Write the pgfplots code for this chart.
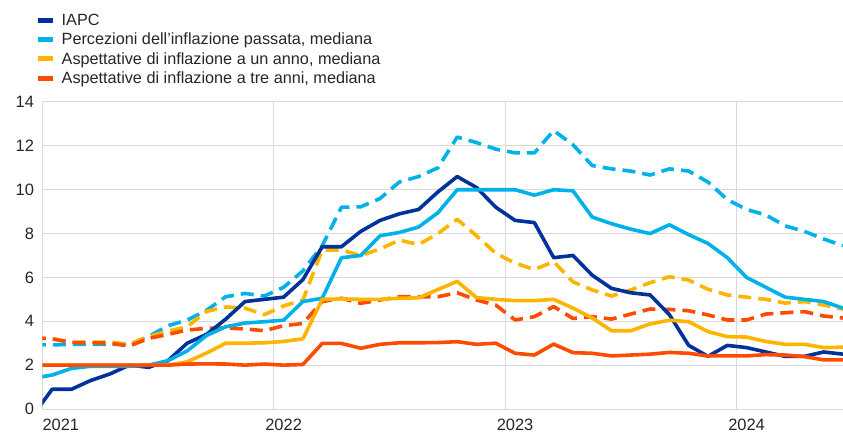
\documentclass[border=0pt]{standalone}
\usepackage{fontspec}
\setmainfont{Liberation Sans}
\usepackage{pgfplots}
\usepackage{pgfplotstable}
\pgfplotsset{compat=1.18}
\definecolor{ecbdark}{RGB}{0,50,153}
\definecolor{ecblight}{RGB}{0,177,234}
\definecolor{ecbyellow}{RGB}{255,180,0}
\definecolor{ecborange}{RGB}{255,75,0}
\definecolor{gridgrey}{RGB}{217,217,217}
\definecolor{txt}{RGB}{38,38,38}

\pgfplotstableread{
m iapc lbs lbd ys yd rs rd
-1 -0.3 1.40 2.95 2.00 3.25 2.00 3.25
0 0.9 1.55 2.92 2.00 3.20 2.00 3.20
1 0.9 1.85 2.95 2.00 3.05 2.00 3.03
2 1.3 1.95 2.95 2.00 3.05 2.00 3.03
3 1.6 1.95 2.95 2.00 3.05 2.00 3.00
4 2.0 1.95 2.95 2.00 2.95 2.00 2.87
5 1.9 2.00 3.30 2.00 3.30 2.00 3.22
6 2.2 2.20 3.80 2.00 3.55 2.00 3.40
7 3.0 2.65 4.05 2.15 3.75 2.05 3.60
8 3.4 3.35 4.50 2.55 4.45 2.06 3.68
9 4.1 3.75 5.12 3.00 4.65 2.05 3.70
10 4.9 3.92 5.27 3.00 4.60 2.00 3.65
11 5.0 3.98 5.15 3.02 4.30 2.05 3.57
12 5.1 4.05 5.55 3.08 4.70 2.00 3.80
13 5.9 4.90 6.30 3.20 4.97 2.03 3.90
14 7.4 5.05 7.45 5.00 7.25 2.99 4.90
15 7.4 6.90 9.20 5.02 7.25 2.99 5.05
16 8.1 7.00 9.22 5.00 7.00 2.77 4.82
17 8.6 7.90 9.60 5.00 7.30 2.95 4.97
18 8.9 8.05 10.35 5.05 7.70 3.02 5.12
19 9.1 8.30 10.60 5.07 7.50 3.02 5.12
20 9.9 8.95 11.00 5.45 8.00 3.03 5.12
21 10.6 10.00 12.40 5.82 8.65 3.07 5.30
22 10.1 10.00 12.15 5.08 7.90 2.95 4.97
23 9.2 10.00 11.85 5.00 7.10 3.00 4.74
24 8.6 10.00 11.68 4.94 6.65 2.54 4.06
25 8.5 9.75 11.68 4.94 6.36 2.46 4.21
26 6.9 10.00 12.70 5.00 6.72 2.96 4.67
27 7.0 9.95 12.05 4.60 5.80 2.57 4.13
28 6.1 8.75 11.10 4.15 5.43 2.54 4.21
29 5.5 8.45 10.95 3.57 5.15 2.42 4.10
30 5.3 8.20 10.85 3.57 5.43 2.46 4.33
31 5.2 8.00 10.67 3.88 5.76 2.50 4.56
32 4.3 8.40 10.95 4.05 6.03 2.58 4.54
33 2.9 7.95 10.85 3.98 5.88 2.54 4.48
34 2.4 7.55 10.35 3.53 5.46 2.42 4.29
35 2.9 6.90 9.55 3.30 5.20 2.42 4.06
36 2.8 6.00 9.10 3.28 5.10 2.42 4.06
37 2.6 5.55 8.85 3.08 5.00 2.48 4.33
38 2.4 5.10 8.35 2.95 4.83 2.46 4.39
39 2.4 5.00 8.10 2.95 4.90 2.39 4.44
40 2.6 4.90 7.75 2.80 4.74 2.24 4.24
41 2.5 4.60 7.45 2.82 4.55 2.24 4.15
}\data

\begin{document}
\begin{tikzpicture}
\begin{axis}[
  scale only axis, width=800.5bp, height=307bp,
  xmin=-0.5, xmax=41, ymin=0, ymax=14,
  ytick={0,2,...,14},
  xtick={0.45,12,24,36}, xticklabels={2021,2022,2023,2024},
  extra x ticks={-0.5,11.5,23.5,35.5}, extra x tick labels={},
  extra x tick style={grid=major},
  ymajorgrids, xmajorgrids=false,
  grid style={gridgrey, line width=1bp},
  major tick length=0pt,
  axis line style={draw=none},
  tick label style={font=\fontsize{16.5}{19}\selectfont, text=txt},
  /pgf/number format/assume math mode=true,
  yticklabel style={xshift=-5bp},
  xticklabel style={yshift=-7bp},
  legend style={draw=none, fill=none, at={(rel axis cs:0,1)}, anchor=north west,
    xshift=-10bp, yshift=92bp, font=\fontsize{16.3}{19.5}\selectfont, text=txt,
    row sep=2.0bp, /tikz/every odd column/.append style={column sep=4bp}},
  legend cell align=left,
  legend image code/.code={\draw[line width=5bp, solid] (0bp,0bp) -- (15bp,0bp);},
  every axis plot/.append style={line width=3.6bp, line join=round},
]
\addplot[ecblight, dash pattern=on 13bp off 7bp, forget plot] table[x=m, y=lbd] {\data};
\addplot[ecbyellow, dash pattern=on 13bp off 7bp, forget plot] table[x=m, y=yd] {\data};
\addplot[ecborange, dash pattern=on 13bp off 7bp, forget plot] table[x=m, y=rd] {\data};
\addplot[ecbdark] table[x=m, y=iapc] {\data};
\addplot[ecblight] table[x=m, y=lbs] {\data};
\addplot[ecbyellow] table[x=m, y=ys] {\data};
\addplot[ecborange] table[x=m, y=rs] {\data};
\legend{IAPC, {Percezioni dell'inflazione passata, mediana}, {Aspettative di inflazione a un anno, mediana}, {Aspettative di inflazione a tre anni, mediana}}
\coordinate (ll) at (rel axis cs:0,0);
\coordinate (ur) at (rel axis cs:1,1);
\end{axis}
\pgfresetboundingbox
\path[use as bounding box] ([xshift=-42.5bp,yshift=-26bp]ll) rectangle ([yshift=102bp]ur);
\end{tikzpicture}
\end{document}
